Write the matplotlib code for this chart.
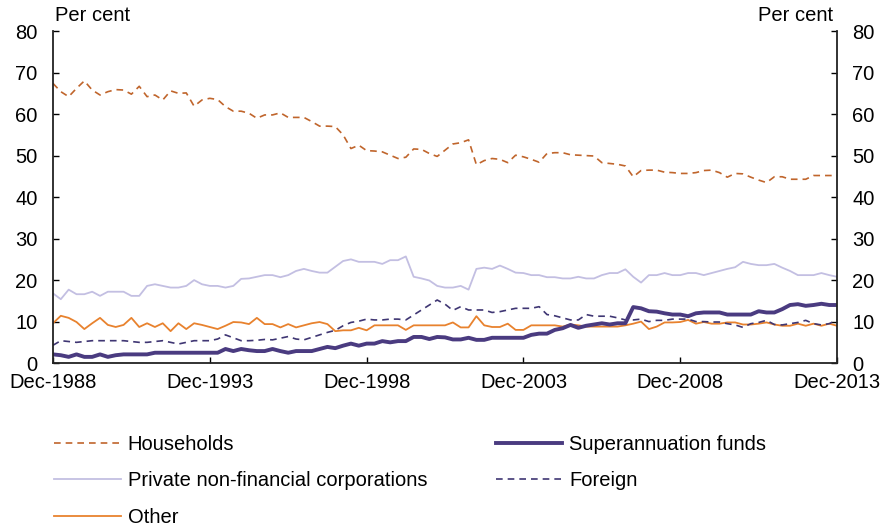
import matplotlib
matplotlib.use("Agg")
import matplotlib.pyplot as plt
import numpy as np

plt.rcParams['font.family'] = ['Liberation Sans', 'DejaVu Sans']

# quarterly, Dec-1988 .. Dec-2013 (per cent)
households = [
    67.4, 65.4, 64.2, 66.2, 68.0, 65.8, 64.6, 65.4, 65.9, 65.8,
    64.8, 66.7, 64.2, 64.6, 63.4, 65.6, 65.0, 65.1, 61.9, 63.4,
    63.8, 63.5, 61.8, 60.7, 60.7, 60.2, 59.0, 59.8, 59.8, 60.3,
    59.2, 59.2, 59.2, 58.2, 57.1, 57.1, 57.0, 55.0, 51.7, 52.5,
    51.2, 51.1, 50.9, 50.1, 49.3, 49.6, 51.6, 51.5, 50.5, 49.8,
    51.3, 52.8, 53.1, 53.8, 47.8, 48.8, 49.3, 49.1, 48.3, 50.1,
    49.7, 49.1, 48.4, 50.5, 50.7, 50.7, 50.2, 50.1, 50.0, 49.9,
    48.3, 48.1, 47.9, 47.5, 44.9, 46.4, 46.5, 46.5, 46.0, 45.9,
    45.7, 45.7, 45.9, 46.4, 46.5, 45.9, 44.8, 45.7, 45.6, 44.8,
    44.1, 43.5, 44.9, 44.9, 44.3, 44.3, 44.3, 45.2, 45.2, 45.2,
    45.2,
]
private_nfc = [
    16.8, 15.4, 17.7, 16.6, 16.6, 17.2, 16.2, 17.2, 17.2, 17.2,
    16.2, 16.2, 18.6, 19.0, 18.6, 18.2, 18.2, 18.6, 20.0, 19.0,
    18.6, 18.6, 18.2, 18.6, 20.3, 20.4, 20.8, 21.2, 21.2, 20.7,
    21.2, 22.2, 22.7, 22.2, 21.8, 21.8, 23.2, 24.6, 25.0, 24.4,
    24.4, 24.4, 23.9, 24.8, 24.8, 25.7, 20.8, 20.4, 19.9, 18.6,
    18.2, 18.2, 18.6, 17.7, 22.7, 23.0, 22.7, 23.5, 22.7, 21.8,
    21.7, 21.2, 21.2, 20.7, 20.7, 20.4, 20.4, 20.8, 20.4, 20.4,
    21.2, 21.7, 21.7, 22.6, 20.8, 19.4, 21.2, 21.2, 21.7, 21.2,
    21.2, 21.7, 21.7, 21.2, 21.7, 22.2, 22.7, 23.1, 24.4, 23.9,
    23.6, 23.6, 23.9, 23.0, 22.2, 21.2, 21.2, 21.2, 21.7, 21.2,
    20.8,
]
other = [
    9.6, 11.4, 10.9, 9.9, 8.2, 9.6, 10.9, 9.2, 8.7, 9.2,
    10.9, 8.7, 9.6, 8.7, 9.6, 7.7, 9.6, 8.2, 9.6, 9.2,
    8.7, 8.2, 9.0, 9.9, 9.8, 9.4, 10.9, 9.4, 9.4, 8.6,
    9.4, 8.6, 9.1, 9.6, 9.9, 9.4, 7.7, 7.9, 7.9, 8.5,
    7.9, 9.1, 9.1, 9.1, 9.1, 8.0, 9.1, 9.1, 9.1, 9.1,
    9.1, 9.8, 8.6, 8.6, 11.3, 9.1, 8.7, 8.7, 9.5, 8.0,
    8.0, 9.1, 9.1, 9.1, 9.1, 8.8, 9.3, 9.1, 8.8, 8.8,
    8.8, 8.8, 8.8, 9.1, 9.5, 10.0, 8.2, 8.8, 9.8, 9.8,
    9.9, 10.4, 9.5, 9.9, 9.5, 9.5, 9.8, 9.8, 9.3, 9.3,
    9.5, 9.8, 9.3, 9.0, 9.0, 9.5, 9.0, 9.5, 9.0, 9.5,
    9.0,
]
foreign = [
    4.3, 5.4, 5.2, 5.0, 5.2, 5.4, 5.4, 5.4, 5.4, 5.4,
    5.2, 5.0, 5.0, 5.2, 5.4, 5.0, 4.6, 5.0, 5.4, 5.4,
    5.4, 5.8, 6.8, 6.1, 5.4, 5.4, 5.5, 5.7, 5.6, 6.0,
    6.4, 5.8, 5.6, 6.2, 6.8, 7.4, 7.9, 9.0, 9.8, 10.1,
    10.6, 10.4, 10.4, 10.6, 10.6, 10.4, 11.6, 12.8, 14.0, 15.2,
    14.2, 12.7, 13.6, 12.8, 12.8, 12.8, 12.2, 12.4, 12.8, 13.2,
    13.2, 13.2, 13.6, 11.7, 11.4, 10.9, 10.4, 10.4, 11.7, 11.3,
    11.3, 11.3, 10.9, 10.4, 10.4, 10.6, 10.0, 10.3, 10.3, 10.6,
    10.6, 10.6, 10.0, 10.0, 9.9, 9.9, 9.5, 9.2, 8.6, 9.5,
    9.8, 10.3, 9.3, 9.2, 9.5, 9.8, 10.3, 9.5, 9.2, 9.5,
    10.4,
]
super_funds = [
    2.1, 1.9, 1.5, 2.1, 1.5, 1.5, 2.1, 1.5, 1.9, 2.1,
    2.1, 2.1, 2.1, 2.5, 2.5, 2.5, 2.5, 2.5, 2.5, 2.5,
    2.5, 2.5, 3.4, 2.9, 3.4, 3.1, 2.9, 2.9, 3.4, 2.9,
    2.5, 2.9, 2.9, 2.9, 3.4, 3.9, 3.6, 4.2, 4.7, 4.2,
    4.7, 4.7, 5.3, 5.0, 5.3, 5.3, 6.3, 6.3, 5.8, 6.3,
    6.2, 5.7, 5.7, 6.1, 5.6, 5.6, 6.1, 6.1, 6.1, 6.1,
    6.1, 6.8, 7.1, 7.1, 8.0, 8.4, 9.2, 8.5, 9.0, 9.3,
    9.6, 9.3, 9.6, 9.6, 13.5, 13.2, 12.5, 12.4, 12.0, 11.7,
    11.7, 11.3, 12.0, 12.2, 12.2, 12.2, 11.7, 11.7, 11.7, 11.7,
    12.5, 12.2, 12.2, 13.0, 14.0, 14.2, 13.8, 14.0, 14.3, 14.0,
    14.0,
]
tick_labels = ['Dec-1988', 'Dec-1993', 'Dec-1998', 'Dec-2003', 'Dec-2008', 'Dec-2013']

q = np.arange(len(households))
fs = 14.5

fig = plt.figure(figsize=(8.83, 5.27), dpi=100)
ax = fig.add_axes([0.06, 0.311, 0.888, 0.63])

l_hh, = ax.plot(q, households, color='#C0652C', lw=1.2, dashes=(4, 3), label='Households')
l_pn, = ax.plot(q, private_nfc, color='#C3BFE2', lw=1.3, label='Private non-financial corporations')
l_ot, = ax.plot(q, other, color='#E8822E', lw=1.3, label='Other')
l_fo, = ax.plot(q, foreign, color='#3F3673', lw=1.2, dashes=(4, 3), label='Foreign')
l_su, = ax.plot(q, super_funds, color='#4A3B80', lw=2.8, label='Superannuation funds')

ax.set_xlim(0, 100)
ax.set_ylim(0, 80)
ax.set_yticks(range(0, 81, 10))
ax.set_xticks(range(0, 101, 20))
ax.set_xticklabels(tick_labels)
ax.tick_params(axis='both', direction='in', length=4, width=1, labelsize=fs,
               right=True, labelright=True, top=False)
ax.tick_params(axis='x', pad=7)
ax.tick_params(axis='y', pad=11)
for s in ['left', 'right', 'bottom']:
    ax.spines[s].set_linewidth(1.3)
    ax.spines[s].set_color('#222222')
ax.spines['top'].set_visible(False)

fig.text(0.062, 0.952, 'Per cent', fontsize=fs, ha='left', va='bottom')
fig.text(0.944, 0.952, 'Per cent', fontsize=fs, ha='right', va='bottom')

fig.legend(handles=[l_hh, l_pn, l_ot, l_su, l_fo], ncol=2, frameon=False,
           loc='upper left', bbox_to_anchor=(0.05, 0.193), fontsize=fs,
           borderpad=0, handlelength=3.3, handletextpad=0.35,
           columnspacing=3.4, labelspacing=0.85)

fig.savefig('out.png', dpi=100)
